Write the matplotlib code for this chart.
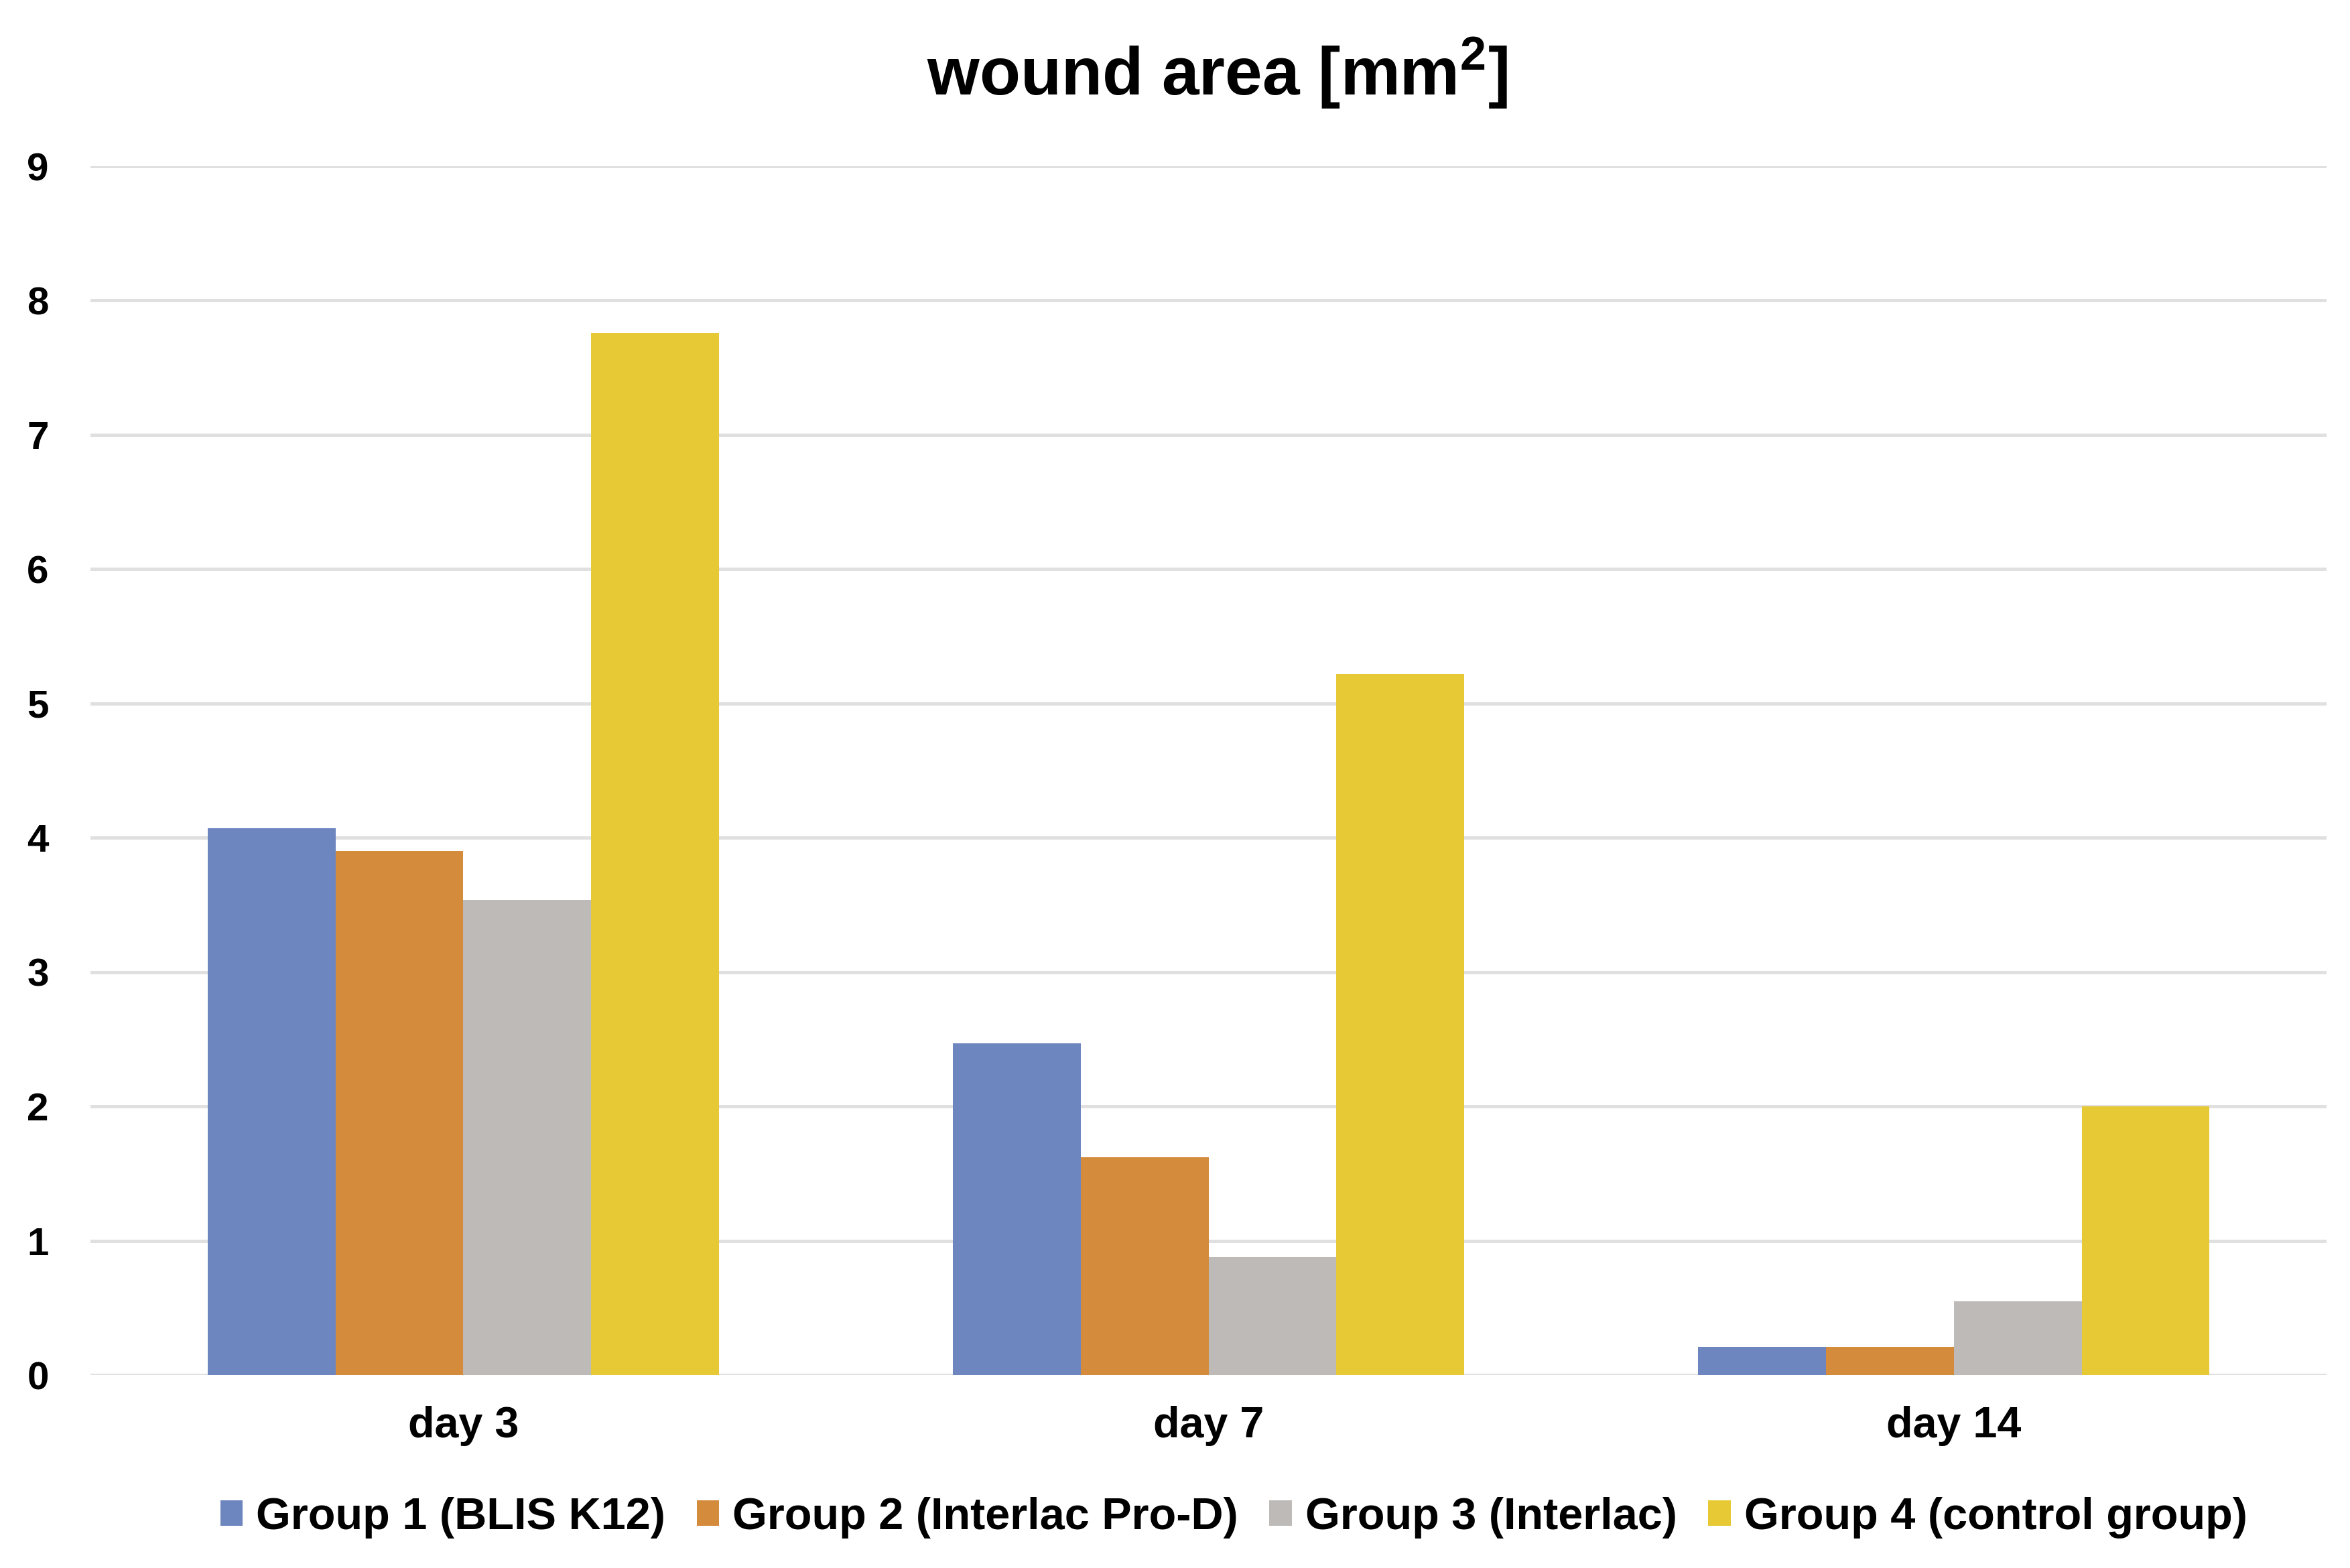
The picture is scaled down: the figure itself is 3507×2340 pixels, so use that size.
import numpy as np
import matplotlib
matplotlib.use("Agg")
import matplotlib.pyplot as plt

plt.rcParams['font.family'] = ['Liberation Sans', 'DejaVu Sans']
plt.rcParams['font.weight'] = 'bold'
plt.rcParams['mathtext.fontset'] = 'custom'
plt.rcParams['mathtext.rm'] = 'Liberation Sans:bold'
plt.rcParams['mathtext.it'] = 'Liberation Sans:bold'
plt.rcParams['mathtext.bf'] = 'Liberation Sans:bold'

#data
days = ["day 3", "day 7", "day 14"]
groups = ["Group 1 (BLIS K12)", "Group 2 (Interlac Pro-D)", "Group 3 (Interlac)", "Group 4 (control group)"]
group1 = [4.07, 2.47, 0.21]
group2 = [3.90, 1.62, 0.21]
group3 = [3.54, 0.88, 0.55]
group4 = [7.76, 5.22, 2.00]
colors = ["#6E86BF", "#D48B3B", "#BDBAB7", "#E6C935"]

fig = plt.figure(figsize=(11.69, 7.8), dpi=300)
ax = fig.add_axes([0.0386, 0.123, 0.9514, 0.771])

x = np.arange(len(days))
width = 0.1715
series = [group1, group2, group3, group4]
for i, vals in enumerate(series):
    ax.bar(x + (i - 1.5) * width, vals, width, color=colors[i], label=groups[i], zorder=3)

ax.set_xlim(-0.5, 2.5)
ax.set_ylim(0, 9)
ax.set_yticks(range(0, 10))
ax.set_xticks(x)
ax.set_xticklabels(days, fontsize=15.5, fontweight='bold')
ax.tick_params(axis='y', length=0, pad=15, labelsize=14)
ax.tick_params(axis='x', length=0, pad=11)
ax.grid(axis='y', color='#e0e0e0', linewidth=1.2, zorder=0)
for s in ax.spines.values():
    s.set_visible(False)

fig.text(0.518, 0.953, r"wound area [mm$^{2}$]", ha='center', va='center', fontsize=24, fontweight='bold')

fig.legend(loc='center', bbox_to_anchor=(0.525, 0.032), ncol=4, frameon=False,
           fontsize=16, handlelength=0.5, handleheight=0.5, handletextpad=0.3,
           columnspacing=0.7)

fig.savefig("out.png", dpi=300, facecolor='white')
